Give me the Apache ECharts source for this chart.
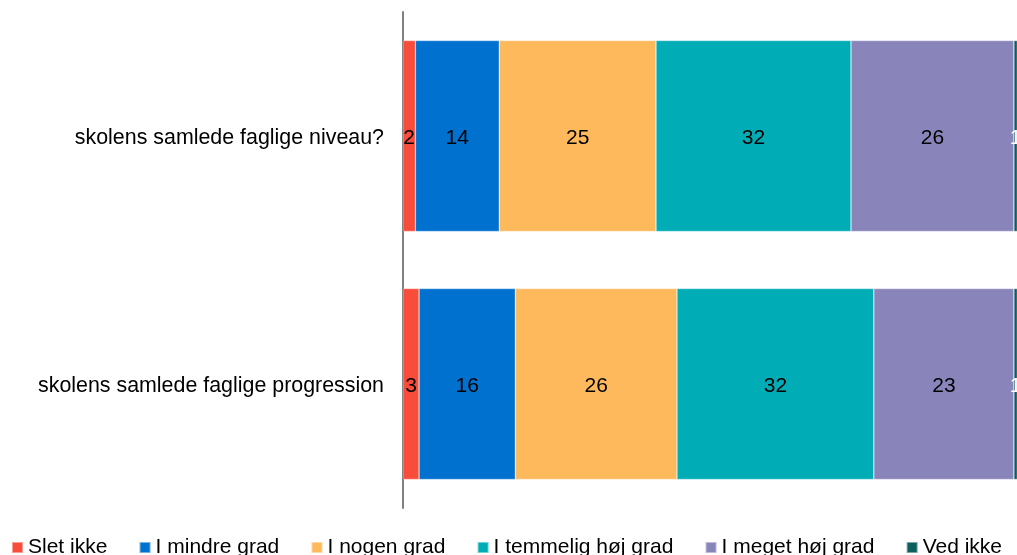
<!DOCTYPE html>
<html>
<head>
<meta charset="utf-8">
<script src="https://cdn.jsdelivr.net/npm/echarts@6/dist/echarts.min.js"></script>
<style>
html,body{margin:0;padding:0;background:#fff;}
#chart{width:1017px;height:555px;}
</style>
</head>
<body>
<div id="chart"></div>
<script>
const categories = ['skolens samlede faglige niveau?', 'skolens samlede faglige progression'];
const seriesNames = ['Slet ikke', 'I mindre grad', 'I nogen grad', 'I temmelig høj grad', 'I meget høj grad', 'Ved ikke'];
const sletIkke = [2.0, 2.6];
const iMindreGrad = [13.6, 15.6];
const iNogenGrad = [25.4, 26.2];
const iTemmeligHoejGrad = [31.6, 31.9];
const iMegetHoejGrad = [26.4, 22.7];
const vedIkke = [1.0, 1.0];
const colors = ['#F94D3C', '#0071CE', '#FDB95B', '#00ADB7', '#8985BB', '#0B5F5D'];
const labelColors = ['#000', '#000', '#000', '#000', '#000', '#fff'];

const values = [sletIkke, iMindreGrad, iNogenGrad, iTemmeligHoejGrad, iMegetHoejGrad, vedIkke];
const FONT = '"Liberation Sans", Arial, sans-serif';

const chart = echarts.init(document.getElementById('chart'), null, {renderer: 'canvas'});
chart.setOption({
  animation: false,
  textStyle: {fontFamily: FONT},
  grid: {left: 403, top: 12, bottom: 47, right: 0, containLabel: false},
  xAxis: {type: 'value', min: 0, max: 99.5, show: false},
  yAxis: {
    type: 'category', data: categories, inverse: true,
    axisLine: {show: true, lineStyle: {color: '#808080', width: 2}},
    axisTick: {show: false},
    axisLabel: {
      margin: 19,
      formatter: v => '{a|' + v + '}',
      rich: {a: {color: '#000', fontSize: 21.4, fontFamily: FONT, padding: [5, 0, 0, 0]}}
    }
  },
  legend: {
    data: seriesNames, left: 6, top: 532,
    icon: 'rect', itemWidth: 11, itemHeight: 11, itemGap: 31.2,
    textStyle: {color: '#000', fontSize: 21, fontFamily: FONT}
  },
  series: seriesNames.map((name, i) => ({
    name, type: 'bar', stack: 'total', data: values[i], barWidth: 191,
    itemStyle: {color: colors[i], borderColor: 'rgba(255,255,255,0.45)', borderWidth: 0.6},
    label: {
      show: true, position: 'inside', color: labelColors[i], fontSize: 21, fontFamily: FONT,
      offset: [0, 2],
      formatter: p => Math.round(p.value)
    }
  }))
});
</script>
</body>
</html>
